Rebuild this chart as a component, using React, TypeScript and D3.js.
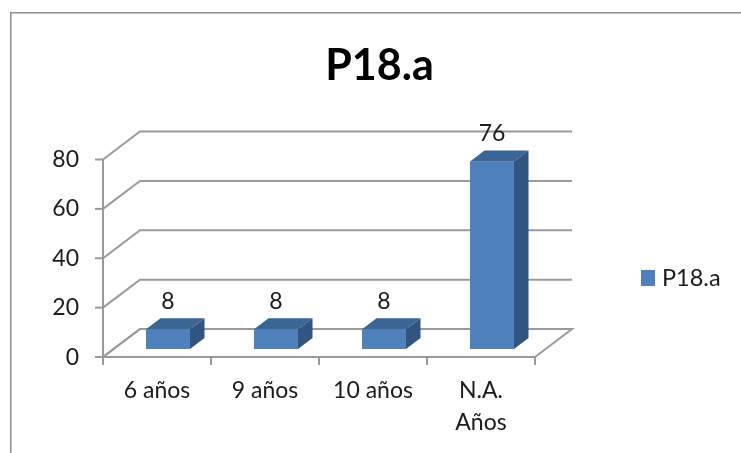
import React from "react";
import * as d3 from "d3";

const categories = ["6 años", "9 años", "10 años", "N.A.|Años"];
const values = [8, 8, 8, 76];
const yTicks = [0, 20, 40, 60, 80];
const seriesName = "P18.a";
const title = "P18.a";

const W = 741, H = 453;
const FONT = "Lato, 'Open Sans', sans-serif";
const GRID = "#9a9a9a";
const TEXT = "#1a1a1a";

export default function App() {
  const x = d3.scaleBand<string>().domain(categories).range([103, 535]);
  const y = d3.scaleLinear().domain([0, 80]).range([357, 159.5]);
  const depthX = 37, depthY = -28;
  const barW = 44, barOffX = 11, barOffY = -8, sideX = 14.5, sideY = -11;
  const line = d3.line();

  return (
    <svg width={W} height={H} style={{ position: "absolute", left: 0, top: 0, background: "#fff" }}>
      <defs>
        <filter id="soft" x="0" y="0" width="100%" height="100%">
          <feGaussianBlur stdDeviation={0.4} />
        </filter>
      </defs>
      <g filter="url(#soft)">
        <path d={`M10.5 ${H} V12.5 H${W}`} fill="none" stroke="#8c8c8c" strokeWidth={2} />
        <text x={379.5} y={80} textAnchor="middle" fontFamily={FONT} fontWeight={700} fontSize={43} fill="#000">{title}</text>

        {/* floor */}
        <path d={line([[103, y(0)], [103 + depthX, y(0) + depthY], [535 + depthX, y(0) + depthY], [535, y(0)], [103, y(0)]]) || ""} fill="none" stroke={GRID} strokeWidth={2} />

        {/* grid and y axis */}
        {yTicks.map(t => (
          <g key={t}>
            <path d={line([[103, y(t)], [103 + depthX, y(t) + depthY], [535 + depthX, y(t) + depthY]]) || ""} fill="none" stroke={GRID} strokeWidth={2} />
            <line x1={95} x2={103} y1={y(t)} y2={y(t)} stroke={GRID} strokeWidth={2} />
            <text x={79} y={y(t) + 7.5} textAnchor="end" fontFamily={FONT} fontSize={23} fill={TEXT}>{t}</text>
          </g>
        ))}
        <line x1={103} x2={103} y1={y(80)} y2={y(0) + 8} stroke={GRID} strokeWidth={2} />

        {/* category ticks */}
        {[...categories.map(c => x(c) as number), 535].map((v, i) => (
          <line key={i} x1={v} x2={v} y1={y(0)} y2={y(0) + 8} stroke={GRID} strokeWidth={2} />
        ))}

        {/* bars */}
        {categories.map((c, i) => {
          const x0 = (x(c) as number) + x.bandwidth() / 2 - barW / 2 + barOffX;
          const x1 = x0 + barW;
          const base = y(0) + barOffY;
          const top = y(values[i]) + barOffY;
          return (
            <g key={c}>
              <rect x={x0} y={top} width={barW} height={base - top} fill="#4f81bd" />
              <path d={line([[x0, top], [x0 + sideX, top + sideY], [x1 + sideX, top + sideY], [x1, top]]) + "Z"} fill="#3a6595" />
              <path d={line([[x1, top], [x1 + sideX, top + sideY], [x1 + sideX, base + sideY], [x1, base]]) + "Z"} fill="#325480" />
              <text x={x0 + barW / 2} y={top - 20} textAnchor="middle" fontFamily={FONT} fontSize={23} fill={TEXT}>{values[i]}</text>
            </g>
          );
        })}

        {/* category labels */}
        {categories.map(c => {
          const cx = (x(c) as number) + x.bandwidth() / 2;
          return c.split("|").map((s, j) => (
            <text key={s} x={cx} y={398 + j * 32} textAnchor="middle" fontFamily={FONT} fontSize={23} fill={TEXT}>{s}</text>
          ));
        })}

        {/* legend */}
        <rect x={641} y={270} width={14} height={16} fill="#4f81bd" />
        <text x={662} y={285.5} fontFamily={FONT} fontSize={23.5} fill={TEXT}>{seriesName}</text>
      </g>
    </svg>
  );
}
